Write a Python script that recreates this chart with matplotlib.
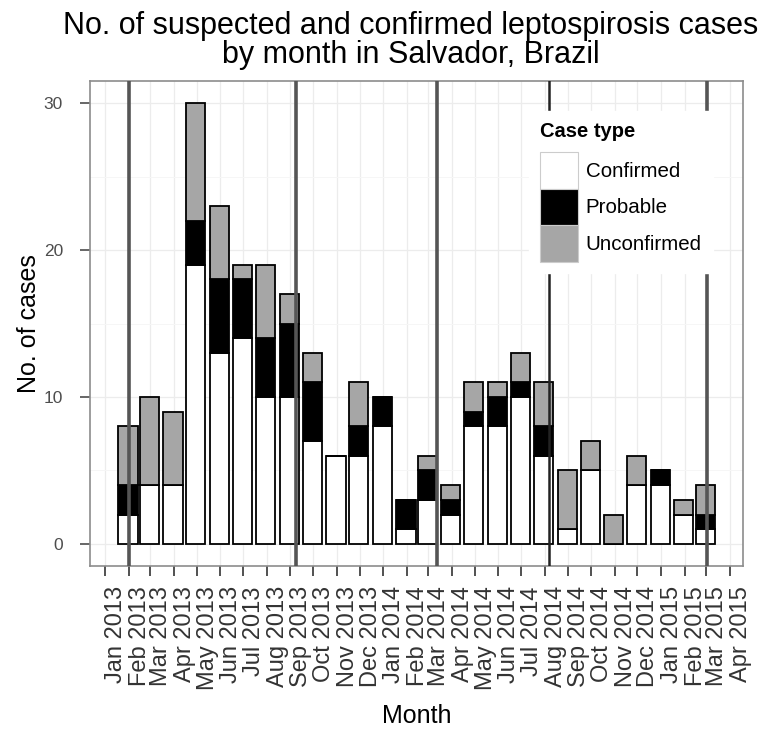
import numpy as np
import pandas as pd
import matplotlib
matplotlib.use('Agg')
import matplotlib.pyplot as plt
import matplotlib.dates as mdates
from matplotlib.patches import Patch

plt.rcParams['font.family'] = ['Liberation Sans', 'DejaVu Sans']

# monthly case counts, Jan 2013 - Feb 2015
months = pd.date_range('2013-01-01', '2015-02-01', freq='MS')
confirmed = [2, 4, 4, 19, 13, 14, 10, 10, 7, 6, 6, 8, 1, 3, 2, 8, 8, 10, 6, 1, 5, 0, 4, 4, 2, 1]
probable = [2, 0, 0, 3, 5, 4, 4, 5, 4, 0, 2, 2, 2, 2, 1, 1, 2, 1, 2, 0, 0, 0, 0, 1, 0, 1]
unconfirmed = [4, 6, 5, 8, 5, 1, 5, 2, 2, 0, 3, 0, 0, 1, 1, 2, 1, 2, 3, 4, 2, 2, 2, 0, 1, 2]
case_types = ['Confirmed', 'Probable', 'Unconfirmed']
fills = ['white', 'black', '#a6a6a6']

# event markers drawn as vertical lines
event_dates = pd.to_datetime(['2013-02-01', '2013-09-09', '2014-03-13', '2014-08-07', '2015-03-02'])

# bars sit at the last day of each month
bar_x = mdates.date2num(months + pd.offsets.MonthEnd(0))
width = 0.9 * 28

fig = plt.figure(figsize=(7.68, 7.33), dpi=100)
ax = fig.add_axes([0.1172, 0.2278, 0.8506, 0.6617])

bottom = np.zeros(len(months))
for vals, fill in zip([confirmed, probable, unconfirmed], fills):
    vals = np.array(vals)
    ax.bar(bar_x, vals, width=width, bottom=bottom, color=fill,
           edgecolor='black', linewidth=1.3, zorder=3)
    bottom = bottom + vals

for i, d in enumerate(event_dates):
    ax.axvline(mdates.date2num(d), color='#222222' if i == 3 else '#555555',
               lw=1.8 if i == 3 else 2.6, zorder=4)

ticks = pd.date_range('2013-01-01', '2015-04-01', freq='MS')
ax.set_xticks(mdates.date2num(ticks))
ax.set_xticklabels([t.strftime('%b %Y') for t in ticks], rotation=90,
                   ha='left', va='top', fontsize=17, color='#333333')
ax.set_xlim(mdates.date2num(pd.Timestamp('2012-12-12')),
            mdates.date2num(pd.Timestamp('2015-04-19')))
ax.set_ylim(-1.5, 31.5)
ax.set_yticks([0, 10, 20, 30])
ax.set_yticks([5, 15, 25], minor=True)
ax.tick_params(axis='y', which='major', labelsize=12.5, labelcolor='#4d4d4d',
               color='#4d4d4d', length=7.5, width=1.2, pad=12)
ax.tick_params(axis='y', which='minor', length=0)
ax.tick_params(axis='x', length=7.5, width=1.2, color='#333333', pad=7)

ax.grid(True, which='major', color='#ececec', lw=0.9, zorder=0)
ax.grid(True, which='minor', axis='y', color='#f6f6f6', lw=0.7, zorder=0)
for s in ax.spines.values():
    s.set_color('#8c8c8c')
    s.set_linewidth(1.2)

ax.set_xlabel('Month', fontsize=18, labelpad=10)
ax.set_ylabel('No. of cases', fontsize=18, labelpad=1.5)

fig.text(0.535, 1 - 34 / 733, 'No. of suspected and confirmed leptospirosis cases',
         ha='center', va='baseline', fontsize=22)
fig.text(0.535, 1 - 63 / 733, 'by month in Salvador, Brazil',
         ha='center', va='baseline', fontsize=22)

handles = [Patch(facecolor=f, edgecolor='#cccccc', lw=0.8) for f in fills]
leg = ax.legend(handles, case_types, title='Case type', loc='upper left',
                bbox_to_anchor=(0.672, 0.938), frameon=True, fancybox=False,
                edgecolor='white', framealpha=1, fontsize=14.8,
                title_fontproperties={'weight': 'bold', 'size': 14.5},
                handlelength=1.85, handleheight=2.35, handletextpad=0.35,
                labelspacing=0.0, borderpad=0.55, borderaxespad=0)
leg._legend_box.align = 'left'
leg._legend_box.sep = 8
leg.set_zorder(5)

fig.savefig('out.png', dpi=100)
